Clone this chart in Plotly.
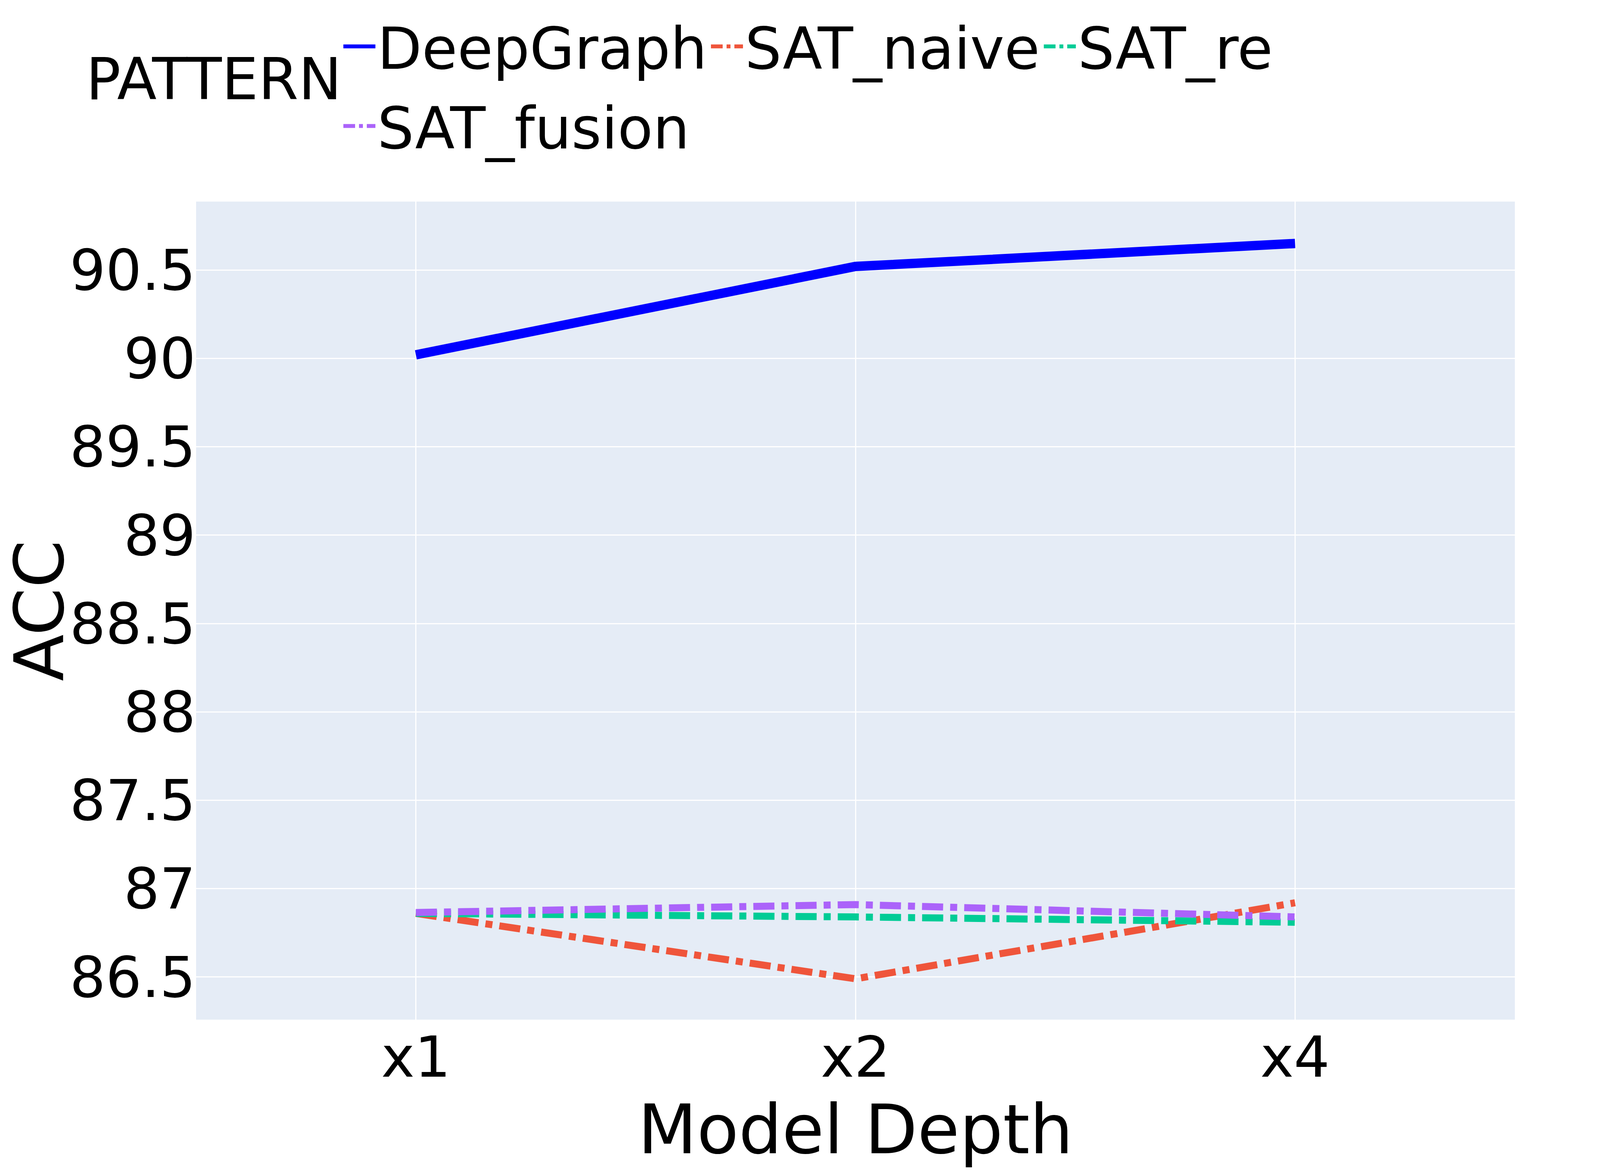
import plotly.graph_objects as go

depths = ["x1", "x2", "x4"]
deepgraph = [90.02, 90.52, 90.65]
sat_naive = [86.86, 86.49, 86.92]
sat_re = [86.86, 86.84, 86.81]
sat_fusion = [86.865, 86.91, 86.84]

y_ticks = [86.5, 87, 87.5, 88, 88.5, 89, 89.5, 90, 90.5]
y_tick_text = ["86.5", "87", "87.5", "88", "88.5", "89", "89.5", "90", "90.5"]

series_names = ["DeepGraph", "SAT_naive", "SAT_re", "SAT_fusion"]
series_values = [deepgraph, sat_naive, sat_re, sat_fusion]
series_colors = ["#0000FF", "#EF553B", "#00CC96", "#AB63FA"]
series_dash = ["solid", "dashdot", "dashdot", "dashdot"]
series_width = [24, 18, 18, 18]
series_legend = ["legend", "legend", "legend", "legend2"]  # 2-row legend layout

fig = go.Figure()
for name, vals, color, dash, w, lg in zip(series_names, series_values, series_colors,
                                          series_dash, series_width, series_legend):
    fig.add_trace(go.Scatter(
        x=depths, y=vals, mode="lines", name=name, legend=lg,
        line=dict(color=color, dash=dash, width=w),
    ))

FONT = "DejaVu Sans"
W, H = 4096, 3000
LEG_X = 0.1102
legend_common = dict(
    orientation="h",
    x=LEG_X, xanchor="left", yanchor="top",
    font=dict(size=148),
    itemwidth=82,
    bgcolor="rgba(0,0,0,0)",
)
fig.update_layout(
    template="plotly",
    width=W, height=H,
    margin=dict(l=502, r=218, t=516, b=390, autoexpand=False),
    font=dict(family=FONT, size=145, color="black"),
    plot_bgcolor="#E5ECF6",
    paper_bgcolor="#FFFFFF",
    legend=dict(legend_common, y=1.2388),
    legend2=dict(legend_common, y=1.1414),
    annotations=[
        dict(text="PATTERN", xref="paper", yref="paper", x=-0.0841, y=1.1495,
             xanchor="left", yanchor="middle", showarrow=False,
             font=dict(size=148, color="black")),
    ],
    xaxis=dict(
        title=dict(text="Model Depth", font=dict(size=175), standoff=10),
        tickfont=dict(size=145),
        range=[-0.5, 2.5],
        gridcolor="white", gridwidth=2.9,
        automargin=False,
    ),
    yaxis=dict(
        title=dict(text="ACC", font=dict(size=175), standoff=32),
        tickfont=dict(size=145),
        range=[86.259, 90.887],
        tickmode="array", tickvals=y_ticks, ticktext=y_tick_text,
        gridcolor="white", gridwidth=2.9,
        zeroline=False,
        automargin=False,
    ),
)

fig.write_html(
    "out.html",
    config={"displayModeBar": False},
    post_script="document.body.style.margin='0';document.body.style.overflow='hidden';",
)
